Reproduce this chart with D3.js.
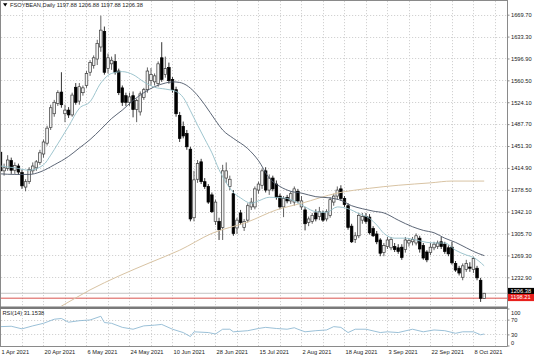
<!DOCTYPE html>
<html><head><meta charset="utf-8">
<script src="https://cdn.jsdelivr.net/npm/d3@7"></script>
<style>
html,body{margin:0;padding:0;background:#fff;}
svg{display:block;}
text{font-family:"Liberation Sans",Arial,sans-serif;font-size:5.7px;fill:#1a1a1a;}
</style></head><body>
<svg id="c" width="536" height="357"></svg>
<script>
// ---- data (bar index 0 = 1 Apr 2021, daily bars) ----
const opens = [1441,1410,1414,1427,1411,1418,1407,1383,1392,1410,1415,1424,1438,1456,1482,1505,1522,1541,1505,1511,
1503,1549,1526,1540,1552,1574,1585,1596,1616,1642,1580,1588,1592,1576,1548,1535,1524,1535,1512,1508,
1532,1545,1560,1558,1555,1598,1570,1582,1562,1545,1502,1484,1472,1446,1332,1396,1425,1392,1384,1370,
1326,1326,1316,1398,1384,1372,1315,1340,1316,1328,1350,1350,1378,1386,1410,1378,1398,1388,1368,1350,
1366,1360,1358,1376,1350,1345,1324,1326,1340,1334,1340,1330,1336,1358,1368,1380,1364,1352,1318,1296,
1302,1328,1334,1333,1314,1305,1295,1274,1284,1282,1284,1282,1283,1279,1290,1292,1290,1298,1286,1275,
1274,1282,1284,1292,1288,1282,1283,1256,1248,1233,1246,1250,1246,1248,1228,1197.88];
const highs = [1458,1422,1436,1432,1424,1422,1412,1396,1416,1424,1428,1445,1462,1485,1520,1528,1544,1574,1520,1516,
1540,1556,1556,1552,1576,1594,1602,1628,1668,1650,1605,1600,1604,1580,1552,1540,1540,1542,1530,1542,
1548,1582,1581,1572,1592,1624,1600,1590,1566,1550,1508,1492,1478,1450,1410,1428,1430,1398,1388,1374,
1362,1332,1420,1424,1402,1378,1332,1345,1330,1356,1365,1384,1392,1414,1416,1404,1402,1394,1372,1368,
1370,1376,1384,1380,1368,1350,1334,1340,1346,1350,1344,1346,1366,1372,1384,1386,1368,1356,1322,1308,
1340,1340,1340,1338,1318,1310,1298,1290,1300,1300,1290,1288,1288,1300,1298,1300,1306,1302,1290,1278,
1290,1292,1294,1300,1292,1286,1292,1260,1252,1256,1262,1258,1267,1252,1232,1206.88];
const lows = [1403,1402,1410,1405,1405,1404,1380,1376,1388,1405,1410,1420,1432,1452,1478,1500,1518,1515,1491,1498,
1500,1520,1520,1535,1548,1568,1580,1586,1608,1570,1572,1578,1570,1536,1518,1518,1518,1499,1491,1502,
1528,1540,1552,1552,1550,1558,1565,1555,1540,1500,1458,1464,1445,1326,1326,1390,1388,1380,1355,1340,
1320,1295,1295,1390,1378,1302,1305,1320,1310,1324,1345,1346,1372,1380,1374,1370,1376,1362,1346,1333,
1356,1355,1352,1356,1345,1311,1318,1322,1326,1328,1325,1326,1332,1352,1362,1360,1350,1312,1290,1290,
1298,1322,1322,1304,1300,1288,1268,1268,1280,1278,1275,1272,1262,1274,1284,1286,1286,1274,1262,1258,
1270,1278,1280,1280,1272,1268,1254,1242,1236,1228,1242,1242,1240,1228,1192,1197.88];
const closes = [1410,1415,1428,1411,1419,1408,1385,1392,1412,1418,1425,1440,1458,1481,1515,1524,1540,1520,1511,1503,
1536,1524,1550,1548,1572,1590,1598,1622,1644,1574,1598,1594,1574,1540,1524,1524,1533,1512,1527,1538,
1545,1576,1570,1568,1588,1562,1580,1560,1545,1505,1464,1468,1450,1330,1395,1422,1392,1384,1358,1342,
1358,1312,1410,1410,1396,1306,1328,1324,1326,1352,1358,1380,1388,1410,1378,1398,1380,1366,1350,1364,
1360,1372,1380,1360,1360,1322,1330,1336,1330,1342,1328,1342,1362,1368,1378,1364,1354,1316,1292,1302,
1336,1334,1326,1307,1302,1292,1273,1286,1295,1296,1279,1276,1266,1295,1294,1296,1302,1280,1265,1262,
1283,1288,1290,1284,1276,1272,1257,1245,1240,1252,1256,1248,1264,1232,1198,1206.38];

// moving averages (bar index / value)
const fastIdx  = [0,4,8,12,14,16,19,22,25,28,31,34,37,40,43,46,49,51,53,55,57,59,61,63,65,67,70,72,75,79,82,85,88,91,94,97,100,103,105,107,110,113,116,119,122,124,127,130,132,135];
const fastVals = [1418,1415,1411,1420,1436,1455,1484,1514,1525,1556,1572,1575,1570,1558,1549,1546,1542,1532,1510,1486,1463,1440,1412,1390,1374,1365,1356,1360,1366,1365,1360,1350,1342,1341,1350,1347,1339,1331,1320,1306,1298,1298,1295,1291,1290,1290,1278,1270,1266,1252];
const slowIdx  = [0,4,8,11,15,19,22,25,28,31,34,37,40,43,46,48,50,52,54,57,60,62,65,69,72,75,78,81,84,88,92,95,98,101,104,107,111,115,118,121,124,127,130,132,135];
const slowVals = [1405,1404,1404,1408,1420,1434,1448,1462,1479,1497,1511,1527,1540,1550,1556,1558,1557,1552,1542,1520,1494,1478,1464,1447,1427,1398,1384,1376,1373,1367,1365,1361,1352,1347,1343,1340,1328,1317,1311,1307,1298,1291,1282,1276,1269];
const longIdx  = [13,17,25,33,42,50,59,69,77,84,94,103,111,120,126,135];
const longVals = [1172,1185,1212,1235,1258,1278,1306,1325,1345,1356,1373,1381,1386,1390,1393,1393];
const rsiIdx  = [0,3,6,9,12,15,17,19,22,25,28,29,31,34,37,40,43,45,48,51,53,54,58,60,62,64,65,69,72,74,77,80,82,83,85,88,91,93,95,97,99,102,106,108,111,115,118,121,124,127,129,132,134,135];
const rsiVals = [51,52,45,53,60,71,73,63,67,69,79,62,60,49,44,53,55,57,44,35,24,37,35,31,44,44,37,40,46,49,46,44,48,44,37,40,42,51,49,35,44,44,35,37,35,44,37,42,40,33,37,37,29,31.15];

const priceTicks = [1669.70,1633.30,1596.90,1560.50,1524.10,1487.70,1451.30,1414.90,1378.50,1342.10,1305.70,1269.30,1232.90];
const rsiTicks = [100,70,30,0];
const rsiLevels = [70,30];
const dateIdx = [0,12,24,36,48,60,72,84,96,108,120,132];
const dateLabels = ["1 Apr 2021","20 Apr 2021","6 May 2021","24 May 2021","10 Jun 2021","28 Jun 2021","15 Jul 2021","2 Aug 2021","18 Aug 2021","3 Sep 2021","22 Sep 2021","8 Oct 2021"];
const bidPrice = 1206.38, linePrice = 1198.21;
const header = "FSOYBEAN,Daily 1197.88 1206.88 1197.88 1206.38";
const rsiHeader = "RSI(14) 31.1538";

// ---- layout ----
const svg = d3.select("#c");
const paneR = 507.5, mainB = 306, rsiT = 309, rsiB = 346;
const x = d3.scaleLinear().domain([0,135]).range([0.5,484.2]);
const y = d3.scaleLinear().domain([1185.2,1694.15]).range([mainB,0]);
const ry = d3.scaleLinear().domain([0,100]).range([345.5,308.5]);
const crisp = v => Math.round(v)+0.5;

svg.append("rect").attr("width",536).attr("height",357).attr("fill","#fff");

// grid
const grid = svg.append("g").attr("stroke","#d2d2d2").attr("stroke-width",1).attr("stroke-dasharray","1.2,1.8").attr("fill","none");
d3.range(6,139,6).forEach(i=>{
  const xx = crisp(x(i));
  grid.append("line").attr("x1",xx).attr("x2",xx).attr("y1",1).attr("y2",mainB);
  grid.append("line").attr("x1",xx).attr("x2",xx).attr("y1",rsiT).attr("y2",rsiB);
});
priceTicks.forEach(p=>{
  const yy = crisp(y(p));
  grid.append("line").attr("x1",1).attr("x2",paneR).attr("y1",yy).attr("y2",yy);
});
rsiLevels.forEach(v=>{
  const yy = crisp(ry(v));
  grid.append("line").attr("x1",1).attr("x2",paneR).attr("y1",yy).attr("y2",yy);
});

// clip
const defs = svg.append("defs");
defs.append("clipPath").attr("id","mainClip").append("rect").attr("x",0).attr("y",0).attr("width",paneR).attr("height",mainB);
defs.append("clipPath").attr("id","rsiClip").append("rect").attr("x",0).attr("y",rsiT).attr("width",paneR).attr("height",rsiB-rsiT);
const main = svg.append("g").attr("clip-path","url(#mainClip)");

// current price lines
main.append("line").attr("x1",0).attr("x2",paneR).attr("y1",y(bidPrice)).attr("y2",y(bidPrice)).attr("stroke","#c4c4c4").attr("stroke-width",1);
main.append("line").attr("x1",0).attr("x2",paneR).attr("y1",y(linePrice)).attr("y2",y(linePrice)).attr("stroke","#d9534f").attr("stroke-width",1);

// candles
const bars = d3.range(opens.length).map(i=>({i,o:opens[i],h:highs[i],l:lows[i],c:closes[i]}));
const cg = main.append("g");
cg.selectAll("line.w").data(bars).join("line").attr("class","w")
  .attr("x1",d=>x(d.i)).attr("x2",d=>x(d.i)).attr("y1",d=>y(d.h)).attr("y2",d=>y(d.l))
  .attr("stroke",d=>d.c>=d.o?"#3a3a3a":"#000").attr("stroke-width",0.8);
cg.selectAll("rect.b").data(bars).join("rect").attr("class","b")
  .attr("x",d=>x(d.i)-1.3).attr("width",2.6)
  .attr("y",d=>y(Math.max(d.o,d.c)))
  .attr("height",d=>Math.max(0.8,Math.abs(y(d.o)-y(d.c))))
  .attr("fill",d=>d.c>=d.o?"#f2f2f2":"#000")
  .attr("stroke",d=>d.c>=d.o?"#3a3a3a":"#000").attr("stroke-width",0.7);

// moving averages
const lineGen = d3.line().x(d=>x(d[0])).y(d=>y(d[1])).curve(d3.curveMonotoneX);
main.append("path").datum(d3.zip(longIdx,longVals)).attr("d",lineGen).attr("fill","none").attr("stroke","#d8c3a3").attr("stroke-width",1);
main.append("path").datum(d3.zip(slowIdx,slowVals)).attr("d",lineGen).attr("fill","none").attr("stroke","#4a5566").attr("stroke-width",0.9);
main.append("path").datum(d3.zip(fastIdx,fastVals)).attr("d",lineGen).attr("fill","none").attr("stroke","#93bec8").attr("stroke-width",0.9);

// RSI
const rsiLine = d3.line().x(d=>x(d[0])).y(d=>ry(d[1])).curve(d3.curveLinear);
svg.append("g").attr("clip-path","url(#rsiClip)").append("path").datum(d3.zip(rsiIdx,rsiVals))
  .attr("d",rsiLine).attr("fill","none").attr("stroke","#8fb9d2").attr("stroke-width",0.9);

// frames
const frame = svg.append("g").attr("fill","none").attr("stroke","#8a8a8a").attr("stroke-width",1);
frame.append("line").attr("x1",0.5).attr("x2",0.5).attr("y1",0).attr("y2",rsiB);
frame.append("line").attr("x1",0).attr("x2",paneR).attr("y1",0.5).attr("y2",0.5);
frame.append("line").attr("x1",paneR).attr("x2",paneR).attr("y1",0).attr("y2",rsiB+0.5);
frame.append("line").attr("x1",0).attr("x2",paneR).attr("y1",rsiB+0.5).attr("y2",rsiB+0.5);
svg.append("rect").attr("x",0).attr("y",mainB+0.5).attr("width",paneR+0.5).attr("height",2.5).attr("fill","#7a7a7a");

// price axis
const pAxis = svg.append("g").attr("transform",`translate(${paneR},0)`)
  .call(d3.axisRight(y).tickValues(priceTicks).tickFormat(d3.format(".2f")).tickSize(2).tickPadding(1.5));
pAxis.select(".domain").remove();
pAxis.selectAll("line").attr("stroke","#8a8a8a");
pAxis.selectAll("text").attr("font-size",null).attr("font-family",null).attr("fill","#1a1a1a");

// RSI axis
const rAxis = svg.append("g").attr("transform",`translate(${paneR},0)`)
  .call(d3.axisRight(ry).tickValues(rsiTicks).tickFormat(d3.format("d")).tickSize(2).tickPadding(1.5));
rAxis.select(".domain").remove();
rAxis.selectAll("line").attr("stroke","#8a8a8a");
rAxis.selectAll("text").attr("font-size",null).attr("font-family",null).attr("fill","#1a1a1a")
  .attr("dy",d=>d===100?"1.0em":(d===0?"-0.2em":"0.32em"));

// date axis
const dAxis = svg.append("g").attr("transform",`translate(0,${rsiB})`)
  .call(d3.axisBottom(x).tickValues(dateIdx).tickFormat((d,k)=>dateLabels[k]).tickSize(0).tickPadding(3.6));
dAxis.select(".domain").remove();
dAxis.selectAll("text").attr("font-size",null).attr("font-family",null).attr("fill","#1a1a1a").attr("text-anchor","start").attr("x",0.6);

// current price labels
const tags = [[bidPrice,"#000",291.5],[linePrice,"#e8201c",297.5]];
tags.forEach(([p,col,cy])=>{
  svg.append("rect").attr("x",paneR+0.5).attr("y",cy-3.6).attr("width",26).attr("height",7.2).attr("fill",col);
  svg.append("text").attr("x",paneR+3).attr("y",cy).attr("dy","0.34em").attr("fill","#fff").style("fill","#fff").text(d3.format(".2f")(p));
});

// headers
svg.append("path").attr("d","M3,3.2L7.4,3.2L5.2,6.4Z").attr("fill","#000");
svg.append("text").attr("x",10).attr("y",7.2).text(header);
svg.append("text").attr("x",2.5).attr("y",315).text(rsiHeader);
</script>
</body></html>
